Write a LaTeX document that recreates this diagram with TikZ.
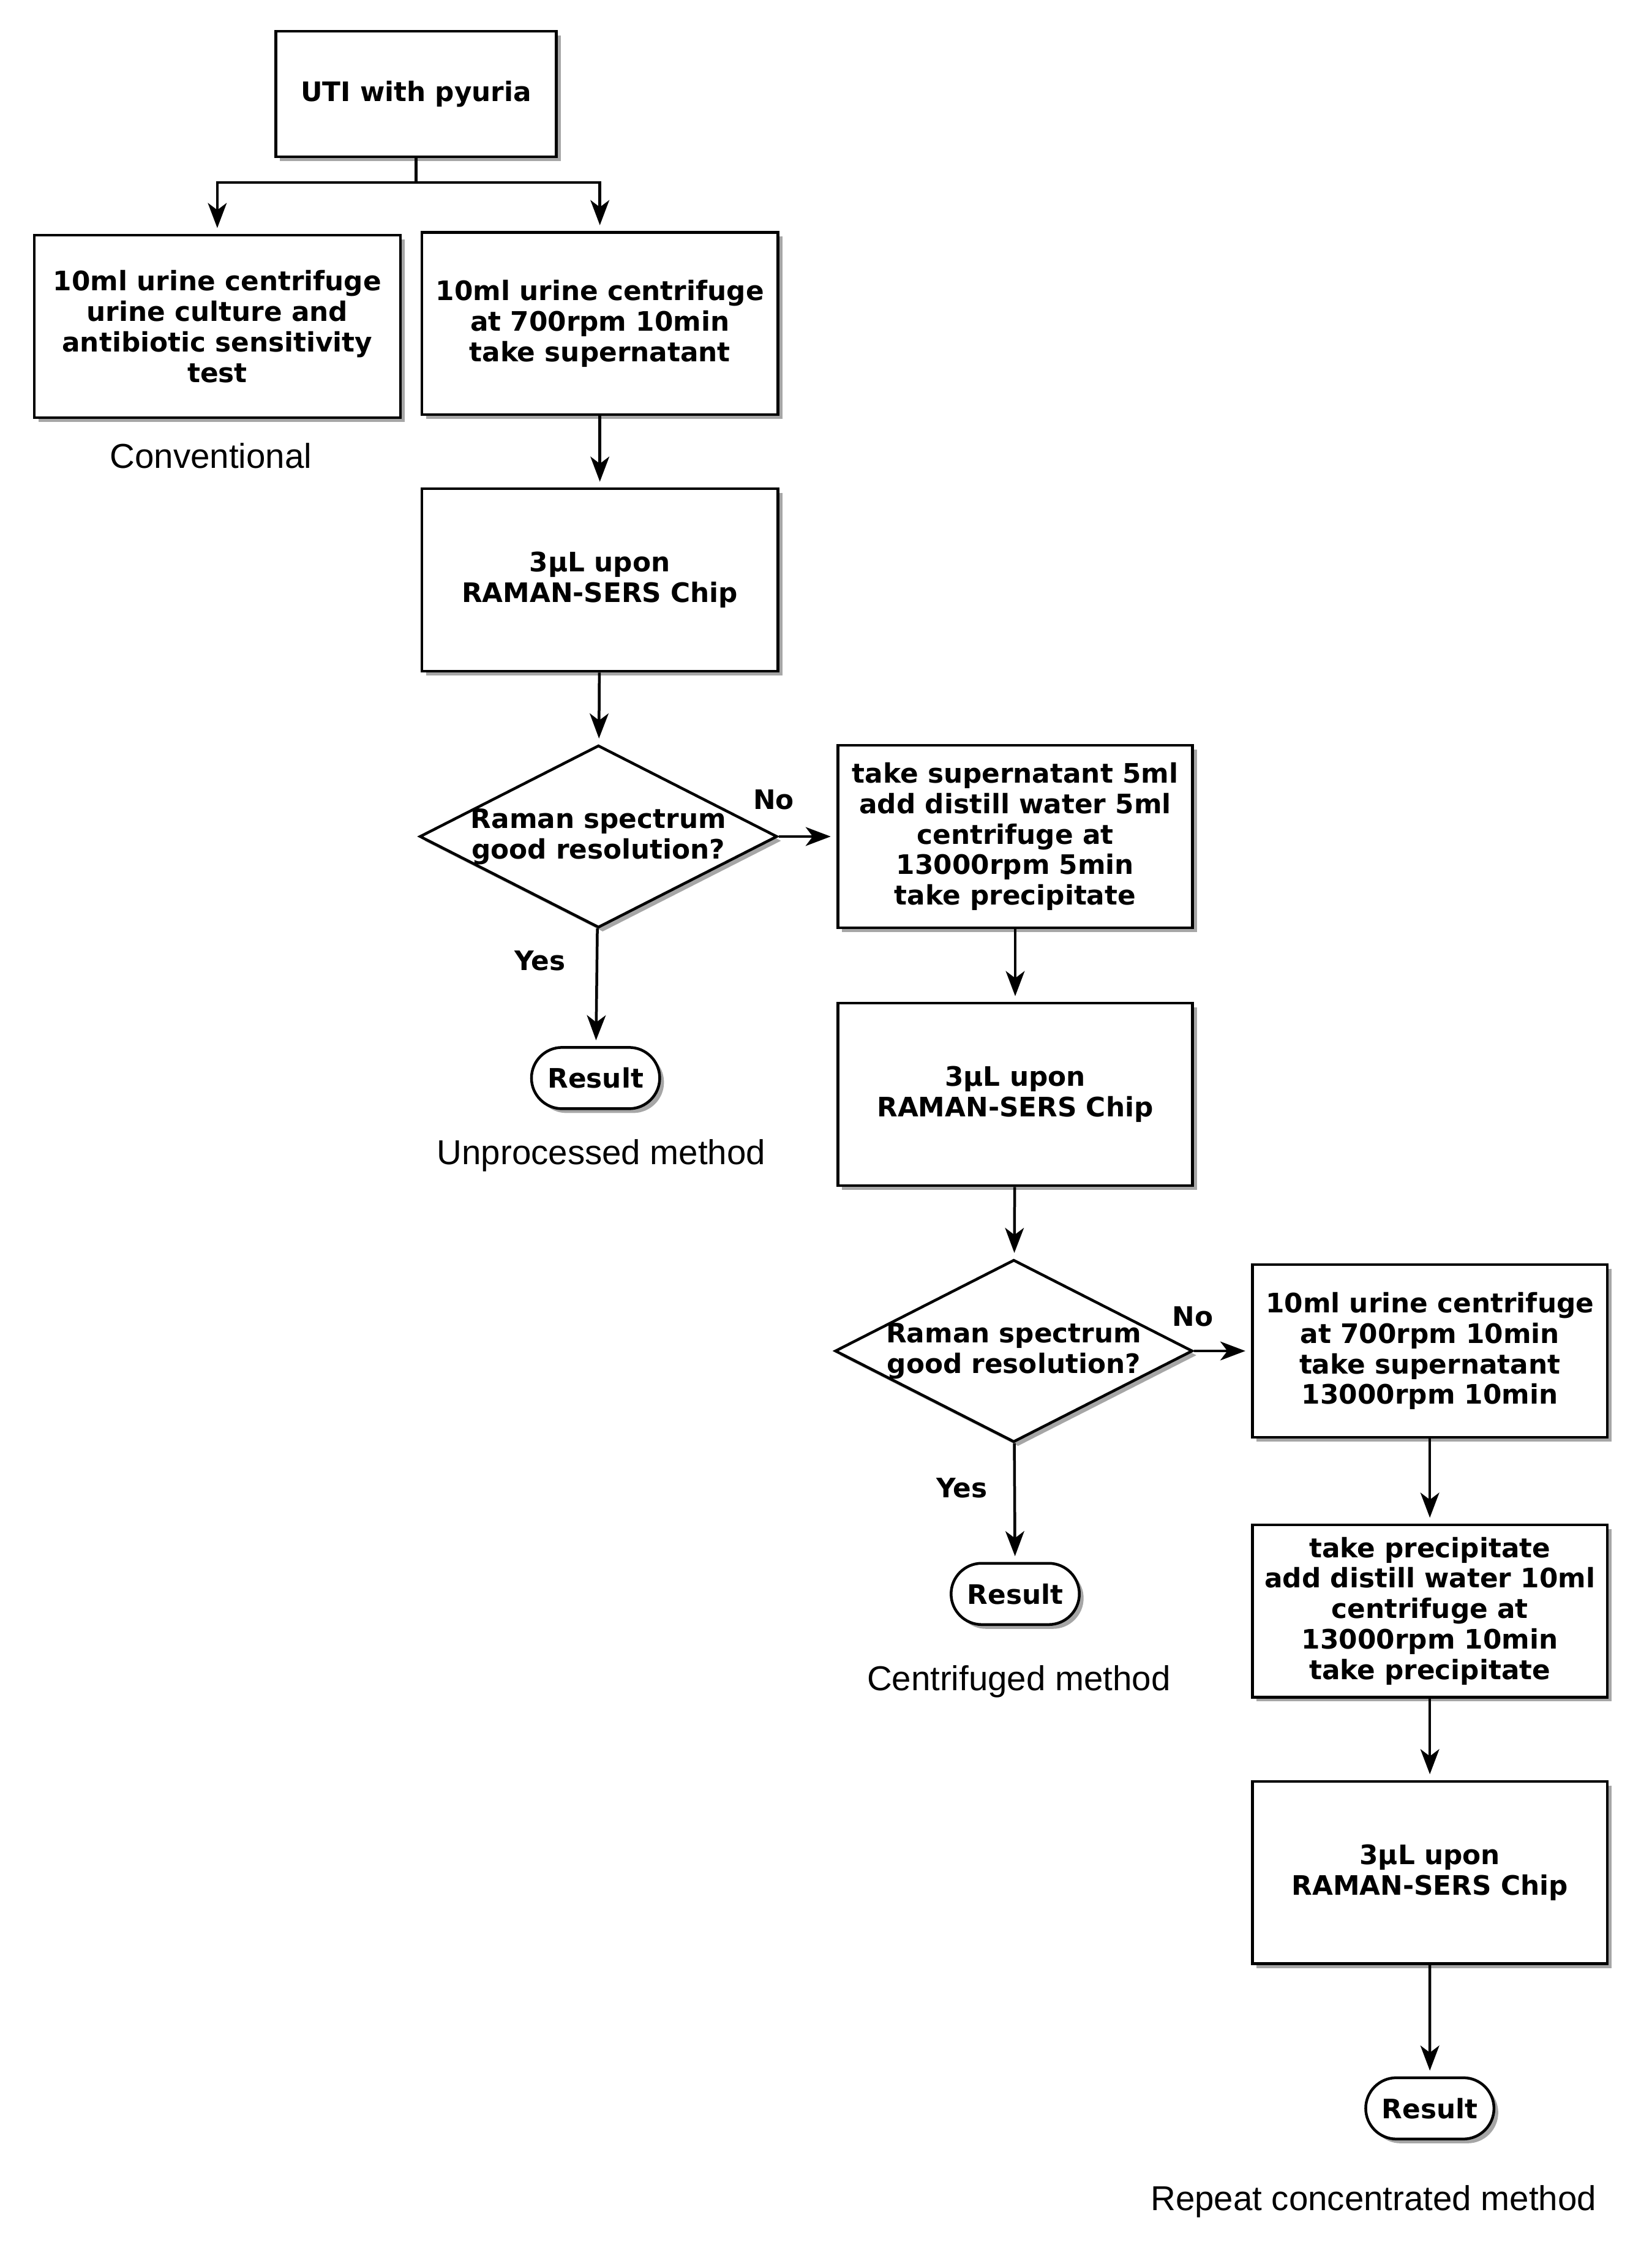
\documentclass[tikz,border=0pt]{standalone}
\usepackage{fontspec}
\usetikzlibrary{arrows.meta,shapes.geometric,shapes.misc,shadows}
\newfontfamily\boxfont{DejaVu Sans}
\newfontfamily\capfont{Liberation Sans}
\tikzstyle{box}=[rectangle,draw=black,fill=white,line width=1.1pt,
  minimum width=4.98cm,minimum height=2.56cm,inner sep=2pt,align=center,
  font=\boxfont\bfseries\fontsize{10.7}{12.2}\selectfont,
  drop shadow={shadow xshift=0.06cm,shadow yshift=-0.06cm,fill=black!50,opacity=0.7}]
\tikzstyle{ask}=[diamond,draw=black,fill=white,line width=1.1pt,
  minimum width=5.02cm,minimum height=2.56cm,inner sep=0pt,
  drop shadow={shadow xshift=0.06cm,shadow yshift=-0.06cm,fill=black!50,opacity=0.7}]
\tikzstyle{asktext}=[align=center,inner sep=0pt,
  font=\boxfont\bfseries\fontsize{10.7}{12.2}\selectfont]
\tikzstyle{stop}=[rounded rectangle,draw=black,fill=white,line width=1.1pt,
  minimum width=1.8cm,minimum height=0.86cm,inner sep=0pt,
  font=\boxfont\bfseries\fontsize{10.7}{12.2}\selectfont,
  drop shadow={shadow xshift=0.06cm,shadow yshift=-0.06cm,fill=black!50,opacity=0.7}]
\tikzstyle{caption}=[font=\capfont\fontsize{13.8}{16}\selectfont]
\tikzstyle{answer}=[font=\boxfont\bfseries\fontsize{10.7}{12.2}\selectfont]
\tikzstyle{arrow}=[line width=1.1pt,-{Stealth[length=10pt,width=7.5pt,inset=2.8pt]},shorten >=0.08cm]
\tikzstyle{none}=[]

\begin{document}
\begin{tikzpicture}
            \useasboundingbox (0,0) rectangle (23.18,-31.62);
            \node [style=box,minimum width=3.94cm,minimum height=1.76cm] (0) at (5.84, -1.32) {UTI with pyuria};
            \node [style=box,minimum width=5.14cm] (1) at (3.05, -4.58) {10ml urine centrifuge\\urine culture and\\antibiotic sensitivity\\test};
            \node [style=box,minimum width=5cm] (2) at (8.42, -4.54) {10ml urine centrifuge\\at 700rpm 10min\\take supernatant};
            \node [style=box,minimum width=5cm] (3) at (8.42, -8.14) {3µL upon\\RAMAN-SERS Chip};
            \node [style=ask,label={[asktext]center:{Raman spectrum\\good resolution?}}] (4) at (8.40, -11.74) {};
            \node [style=box] (5) at (14.25, -11.74) {take supernatant 5ml\\add distill water 5ml\\centrifuge at\\13000rpm 5min\\take precipitate};
            \node [style=stop] (6) at (8.36, -15.13) {Result};
            \node [style=box] (7) at (14.25, -15.36) {3µL upon\\RAMAN-SERS Chip};
            \node [style=ask,label={[asktext]center:{Raman spectrum\\good resolution?}}] (8) at (14.23, -18.96) {};
            \node [style=box,minimum height=2.42cm] (9) at (20.07, -18.96) {10ml urine centrifuge\\at 700rpm 10min\\take supernatant\\13000rpm 10min};
            \node [style=stop] (10) at (14.25, -22.37) {Result};
            \node [style=box,minimum height=2.42cm] (11) at (20.07, -22.61) {take precipitate\\add distill water 10ml\\centrifuge at\\13000rpm 10min\\take precipitate};
            \node [style=box] (12) at (20.07, -26.28) {3µL upon\\RAMAN-SERS Chip};
            \node [style=stop] (13) at (20.07, -29.59) {Result};
            \node [style=caption] (14) at (2.96, -6.40) {Conventional};
            \node [style=caption] (15) at (8.44, -16.22) {Unprocessed method};
            \node [style=caption] (16) at (14.30, -23.60) {Centrifuged method};
            \node [style=caption] (17) at (19.28, -30.90) {Repeat concentrated method};
            \node [style=answer] (18) at (10.86, -11.22) {No};
            \node [style=answer] (19) at (7.58, -13.48) {Yes};
            \node [style=answer] (20) at (16.74, -18.48) {No};
            \node [style=answer] (21) at (13.50, -20.88) {Yes};
            \node [style=none] (22) at (5.84, -2.56) {};
            \draw [line width=1.1pt] (0) to (22.center);
            \draw [style=arrow] (22.center) -| (1);
            \draw [style=arrow] (22.center) -| (2);
            \draw [style=arrow] (2) to (3);
            \draw [style=arrow] (3) to (4);
            \draw [style=arrow] (4) to (5);
            \draw [style=arrow] (4) to (6);
            \draw [style=arrow] (5) to (7);
            \draw [style=arrow] (7) to (8);
            \draw [style=arrow] (8) to (9);
            \draw [style=arrow] (8) to (10);
            \draw [style=arrow] (9) to (11);
            \draw [style=arrow] (11) to (12);
            \draw [style=arrow] (12) to (13);
    \end{tikzpicture}
\end{document}
